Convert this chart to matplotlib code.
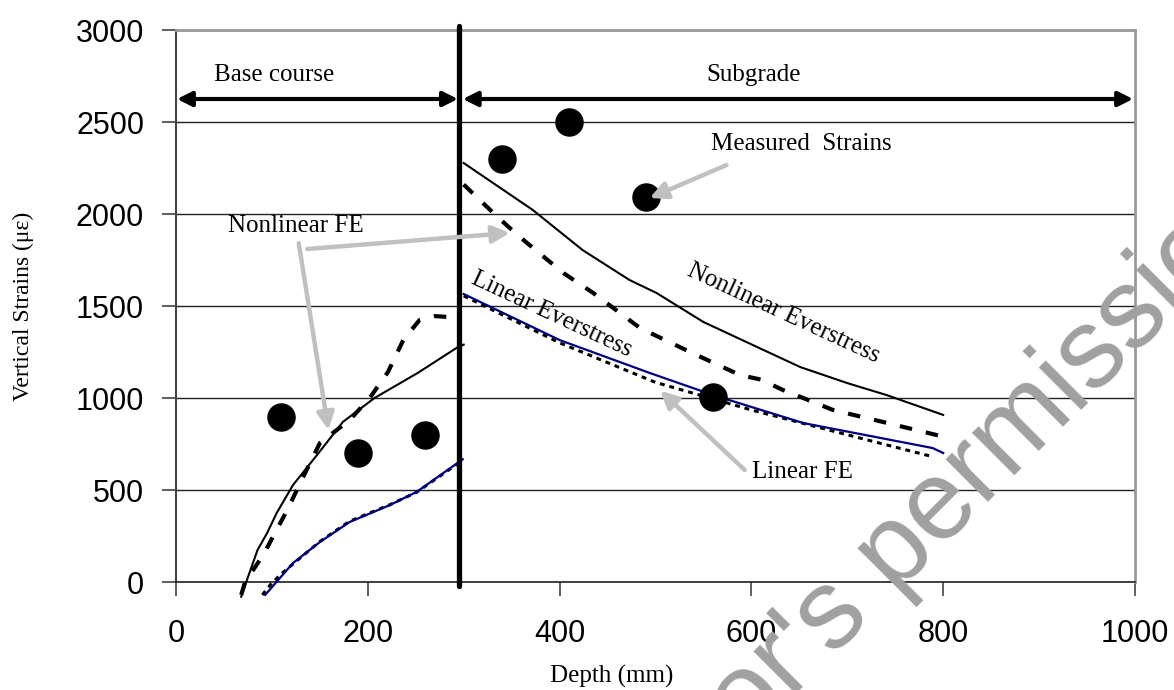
import matplotlib
matplotlib.use("Agg")
import matplotlib.pyplot as plt

# ---------------- data ----------------
meas_x = [110, 190, 260, 340, 410, 490, 560]
meas_y = [895, 700, 800, 2300, 2500, 2095, 1003]

# Nonlinear FE (thick dashed)
nlfe_base_x = [68, 72, 91, 101, 116, 131, 150, 181, 202, 221, 237, 254, 270, 285, 295]
nlfe_base_y = [-70, 0, 147, 245, 391, 554, 755, 880, 1000, 1141, 1315, 1424, 1445, 1440, 1440]
nlfe_sub_x = [300, 331, 356, 404, 435, 484, 536, 588, 610, 633, 654, 685, 737, 789, 800]
nlfe_sub_y = [2160, 2005, 1886, 1679, 1571, 1380, 1250, 1125, 1100, 1043, 1000, 935, 870, 804, 790]

# Nonlinear Everstress (thin solid black)
nlev_base_x = [68, 74, 85, 95, 105, 122, 147, 174, 207, 252, 294, 300]
nlev_base_y = [-80, 11, 174, 266, 375, 527, 690, 870, 1000, 1136, 1277, 1290]
nlev_sub_x = [300, 372, 424, 473, 501, 550, 606, 651, 700, 741, 800]
nlev_sub_y = [2277, 2022, 1804, 1641, 1571, 1413, 1277, 1168, 1081, 1016, 908]

# Linear FE (navy solid)
linfe_base_x = [93, 122, 150, 181, 223, 251, 299]
linfe_base_y = [-70, 103, 217, 326, 418, 490, 667]
linfe_sub_x = [300, 400, 494, 560, 654, 789, 800]
linfe_sub_y = [1565, 1315, 1136, 1016, 864, 728, 701]

# Linear Everstress (dotted black)
linev_base_x = [90, 100, 112, 150, 181, 223, 251, 299]
linev_base_y = [-70, -5, 54, 220, 330, 420, 488, 662]
linev_sub_x = [300, 400, 500, 600, 700, 786]
linev_sub_y = [1555, 1300, 1085, 935, 800, 685]

xticks = [0, 200, 400, 600, 800, 1000]
yticks = [0, 500, 1000, 1500, 2000, 2500, 3000]
boundary_x = 295

SERIF = ['Liberation Serif', 'DejaVu Serif']
SANS = ['Liberation Sans', 'DejaVu Sans']

W, H = 1174, 690
fig = plt.figure(figsize=(W / 100, H / 100), dpi=100)
ax = fig.add_axes([176 / W, 1 - 582 / H, (1135 - 176) / W, (582 - 30) / H])
ax.set_xlim(0, 1000)
ax.set_ylim(0, 3000)
ax.set_xticks(xticks)
ax.set_yticks(yticks)
ax.set_xticklabels([str(t) for t in xticks], family=SANS, fontsize=22)
ax.set_yticklabels([str(t) for t in yticks], family=SANS, fontsize=22)
ax.tick_params(axis='x', direction='out', length=10, width=1.2, pad=17, color='#444444')
ax.tick_params(axis='y', direction='out', length=10, width=1.2, pad=13, color='#444444')
ax.yaxis.grid(True, color='#222222', lw=1.0)
ax.set_axisbelow(True)
for s in ['top', 'right']:
    ax.spines[s].set_color('#999999')
    ax.spines[s].set_linewidth(2)
ax.spines['left'].set_color('#444444')
ax.spines['left'].set_linewidth(1.5)
ax.spines['bottom'].set_color('#222222')
ax.spines['bottom'].set_linewidth(1.2)

# series
dash_kw = dict(color='black', lw=3.0, dashes=(3.0, 3.4), clip_on=False, zorder=4)
ax.plot(nlfe_base_x, nlfe_base_y, **dash_kw)
ax.plot(nlfe_sub_x, nlfe_sub_y, **dash_kw)
ax.plot(nlev_base_x, nlev_base_y, color='black', lw=1.5, clip_on=False, zorder=4)
ax.plot(nlev_sub_x, nlev_sub_y, color='black', lw=1.5, clip_on=False, zorder=4)
dot_kw = dict(color='black', lw=2.2, dashes=(1.6, 1.6), clip_on=False, zorder=4)
ax.plot(linev_base_x, linev_base_y, **dot_kw)
ax.plot(linev_sub_x, linev_sub_y, **dot_kw)
ax.plot(linfe_base_x, linfe_base_y, color='#000080', lw=1.6, clip_on=False, zorder=5)
ax.plot(linfe_sub_x, linfe_sub_y, color='#000080', lw=1.6, clip_on=False, zorder=5)
ax.plot(meas_x, meas_y, 'o', color='black', ms=19.5, zorder=6, clip_on=False)

# boundary line
ax.plot([boundary_x, boundary_x], [-20, 3020], color='black', lw=3.8,
        solid_capstyle='round', clip_on=False, zorder=7)

# layer arrows
arr_kw = dict(arrowstyle='<|-|>', lw=3, color='black', mutation_scale=22,
              shrinkA=0, shrinkB=0)
ax.annotate('', xy=(1, 2625), xytext=(294, 2625), arrowprops=arr_kw, zorder=7)
ax.annotate('', xy=(299, 2625), xytext=(998, 2625), arrowprops=arr_kw, zorder=7)
ax.text(102, 2755, 'Base course', family=SERIF, fontsize=18, ha='center', va='center')
ax.text(602, 2755, 'Subgrade', family=SERIF, fontsize=18, ha='center', va='center')

# annotations
gray = '#c0c0c0'
g_kw = dict(arrowstyle='-|>', lw=3.2, color=gray, mutation_scale=26, shrinkA=0, shrinkB=0)
ax.text(652, 2380, 'Measured  Strains', family=SERIF, fontsize=18, ha='center', va='center')
ax.annotate('', xy=(494, 2087), xytext=(574, 2266), arrowprops=g_kw, zorder=8)
ax.text(125, 1935, 'Nonlinear FE', family=SERIF, fontsize=18, ha='center', va='center')
ax.annotate('', xy=(348, 1897), xytext=(137, 1810), arrowprops=g_kw, zorder=8)
ax.annotate('', xy=(159, 826), xytext=(128, 1842), arrowprops=g_kw, zorder=8)
ax.text(653, 598, 'Linear FE', family=SERIF, fontsize=18, ha='center', va='center')
ax.annotate('', xy=(505, 1040), xytext=(593, 609), arrowprops=g_kw, zorder=8)
ax.text(633, 1462, 'Nonlinear Everstress', family=SERIF, fontsize=18, ha='center',
        va='center', rotation=-24.8, rotation_mode='anchor')
ax.text(392, 1457, 'Linear Everstress', family=SERIF, fontsize=18, ha='center',
        va='center', rotation=-25, rotation_mode='anchor')

# axis labels
fig.text(23 / W, 1 - 306 / H, 'Vertical Strains (με)', family=SERIF, fontsize=17,
         rotation=90, ha='center', va='center')
fig.text(612 / W, 1 - 676 / H, 'Depth (mm)', family=SERIF, fontsize=18,
         ha='center', va='center')

# watermark
fig.text(592 / W, 1 - 898 / H, "author's permission", family=SANS, fontsize=81,
         color='#a0a0a0', rotation=45, rotation_mode='anchor', ha='left',
         va='baseline', zorder=20)

fig.savefig('out.png', dpi=100)
